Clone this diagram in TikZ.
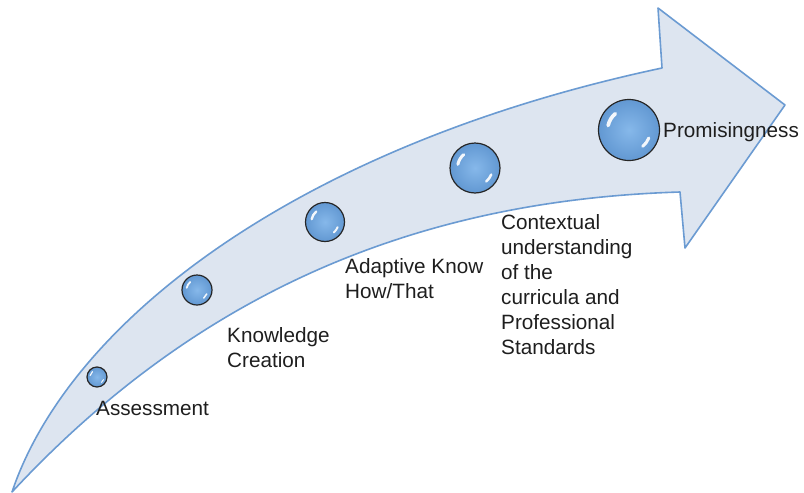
\documentclass[tikz,border=0pt]{standalone}
\usepackage{fontspec}
\setmainfont{Liberation Sans}
\definecolor{arrowfill}{HTML}{DDE5F0}
\definecolor{arrowline}{HTML}{6B9BD2}
\definecolor{bubin}{HTML}{86B8EA}
\definecolor{bubout}{HTML}{6298D2}
\definecolor{txt}{HTML}{1E1E1E}
\tikzset{
  bubble/.style={circle, draw=black!85, line width=1.2pt, inner color=bubin, outer color=bubout, inner sep=0pt},
  hl/.style={white, line cap=round, opacity=0.92},
  lbl/.style={anchor=north west, inner sep=0pt, align=left, text=txt,
    font=\fontsize{20.7}{25}\selectfont},
  bigarrow/.style={fill=arrowfill, draw=arrowline, line width=1.6pt, line join=round}
}
\newcommand\bubble[3]{%
  \node[bubble, minimum size=#3*2pt] (#1) at (#2) {};
  \begin{scope}[shift={(#1.center)}, yscale=-1]
    \draw[hl, line width=#3*0.12pt] (130:#3*0.7) arc (130:168:#3*0.7);
    \draw[hl, line width=#3*0.10pt] (-22:#3*0.7) arc (-22:-50:#3*0.7);
  \end{scope}}
\begin{document}
\begin{tikzpicture}[x=1pt, y=-1pt]
\useasboundingbox (0,0) rectangle (804,493);
% arrow body
\coordinate (tail) at (12,492);
\coordinate (un) at (662,68);
\coordinate (ht) at (658,8);
\coordinate (tip) at (785,105);
\coordinate (hb) at (685,248);
\coordinate (ln) at (680,192);
\draw[bigarrow] (tail) .. controls (70,320) and (300,145) .. (un)
  -- (ht) -- (tip) -- (hb) -- (ln)
  .. controls (420,200) and (200,290) .. (tail) -- cycle;
% bubbles
\bubble{b1}{97,377}{10}
\bubble{b2}{197,290}{15}
\bubble{b3}{325,222}{19.5}
\bubble{b4}{475,168}{25}
\bubble{b5}{629,130}{30.5}
% labels
\node[lbl] (l1) at (96,401) {Assessment};
\node[lbl] (l2) at (227,327) {Knowledge\\Creation};
\node[lbl] (l3) at (345,258) {Adaptive Know\\How/That};
\node[lbl] (l4) at (501,214) {Contextual\\understanding\\of the\\curricula and\\Professional\\Standards};
\node[lbl] (l5) at (663,122) {Promisingness};
\end{tikzpicture}
\end{document}
